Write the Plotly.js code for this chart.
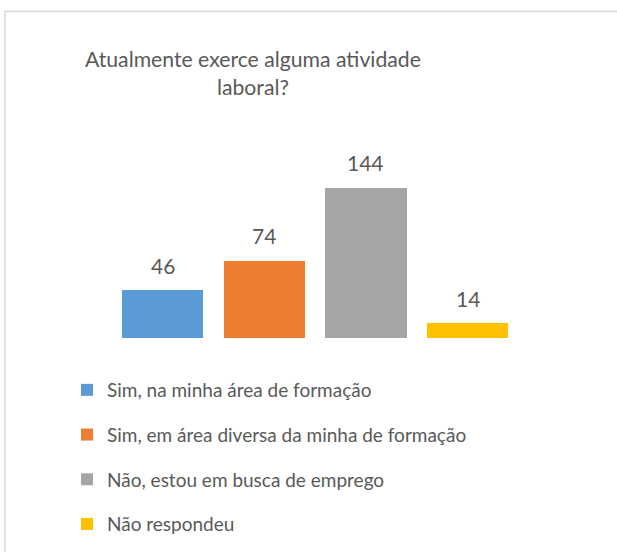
<!DOCTYPE html>
<html><head><meta charset="utf-8">
<script src="https://cdn.plot.ly/plotly-3.0.1.min.js"></script>
<style>html,body{margin:0;padding:0;background:#fff;}#chart{width:617px;height:552px;}</style>
</head><body><div id="chart"></div>
<script>
const categories = ["Sim, na minha área de formação", "Sim, em área diversa da minha de formação", "Não, estou em busca de emprego", "Não respondeu"];
const values = [46, 74, 144, 14];
const colors = ["#5B9BD5", "#ED7D31", "#A5A5A5", "#FFC000"];
const titleText = "Atualmente exerce alguma atividade<br>laboral?";

const FONT = "Lato, 'Open Sans', sans-serif";
const TXT = "#595959";

const traces = categories.map((c, i) => ({
  type: "bar", x: [c], y: [values[i]], name: c,
  marker: {color: colors[i]}, legendgroup: "g" + i,
  hoverinfo: "skip"
}));

const annotations = categories.map((c, i) => ({
  x: c, y: values[i], xref: "x", yref: "y", text: String(values[i]),
  showarrow: false, yanchor: "middle", yshift: 25,
  font: {family: FONT, size: 21, color: TXT}
}));
annotations.push({
  xref: "paper", yref: "paper", x: 253/617, y: 1 - 73/552, xanchor: "center", yanchor: "middle",
  text: titleText, showarrow: false, align: "center",
  font: {family: FONT, size: 21.2, color: TXT}
});

const layout = {
  width: 617, height: 552,
  margin: {l: 0, r: 0, t: 0, b: 0},
  paper_bgcolor: "#fff", plot_bgcolor: "rgba(0,0,0,0)",
  barmode: "stack", bargap: 0.2,
  showlegend: true,
  legend: {
    x: 67/617, y: 1 - 371/552, xanchor: "left", yanchor: "top",
    tracegroupgap: 17, font: {family: FONT, size: 19, color: TXT},
    bgcolor: "rgba(0,0,0,0)", traceorder: "grouped"
  },
  xaxis: {domain: [111.7/617, 518.5/617], range: [-0.5, 3.5], showticklabels: false,
          showgrid: false, zeroline: false, showline: false, ticks: "", fixedrange: true},
  yaxis: {domain: [1 - 338/552, 1 - 171.3/552], range: [0, 160], showticklabels: false,
          showgrid: false, zeroline: false, showline: false, ticks: "", fixedrange: true},
  annotations: annotations,
  shapes: [{type: "path", xref: "paper", yref: "paper",
    path: "M " + (5/617) + "," + 0 + " L " + (5/617) + "," + (1 - 11.5/552) + " L 1.01," + (1 - 11.5/552),
    line: {color: "#D9D9D9", width: 1.5}}]
};

Plotly.newPlot("chart", traces, layout, {displayModeBar: false, staticPlot: true});
</script></body></html>
